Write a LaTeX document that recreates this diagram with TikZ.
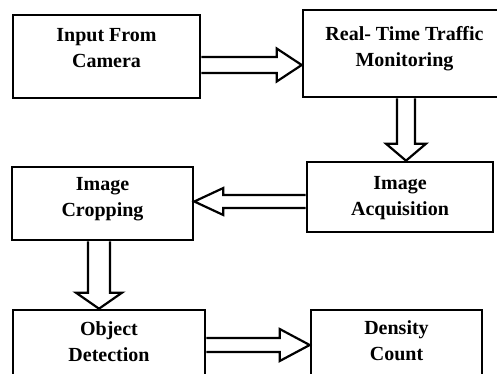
\documentclass[tikz,border=0pt]{standalone}
\usepackage{fontspec}
\setmainfont{Liberation Serif}
\usetikzlibrary{calc}

\tikzset{
	box/.style={rectangle, draw=black, line width=2.6pt},
	boxtext/.style={anchor=north, inner sep=0pt, align=center, font=\bfseries\fontsize{20}{26}\selectfont},
	hollow/.style={draw=black, line width=2.2pt, line join=miter}
}

% from, to, shaft half width, head half width, head length
\newcommand{\HollowArrow}[5]{
	\coordinate (hb) at ($(#2)!#5pt!(#1)$);
	\draw[hollow] ($(#1)!#3pt!90:(#2)$) -- ($(hb)!#3pt!90:(#2)$) -- ($(hb)!#4pt!90:(#2)$) -- (#2) -- ($(hb)!#4pt!-90:(#2)$) -- ($(hb)!#3pt!-90:(#2)$) -- ($(#1)!#3pt!-90:(#2)$);
}

\begin{document}
\begin{tikzpicture}[x=1pt, y=-1pt]

\useasboundingbox (0,0) rectangle (497,373);

\node (cam) at (106.5, 56.5) [box, minimum width=187pt, minimum height=83pt] {};
\node (mon) at (404.5, 53.5) [box, minimum width=203pt, minimum height=87pt] {};
\node (acq) at (400, 197) [box, minimum width=186pt, minimum height=70pt] {};
\node (crop) at (102.5, 203.5) [box, minimum width=181pt, minimum height=73pt] {};
\node (det) at (109, 350) [box, minimum width=192pt, minimum height=80pt] {};
\node (den) at (396.5, 350) [box, minimum width=171pt, minimum height=80pt] {};

\node (camtxt) at ($(cam.north)+(0,14)$) [boxtext] {Input From\\Camera};
\node (montxt) at ($(mon.north)+(0,18)$) [boxtext] {Real- Time Traffic\\Monitoring};
\node (acqtxt) at ($(acq.north)+(0,15)$) [boxtext] {Image\\Acquisition};
\node (croptxt) at ($(crop.north)+(0,11)$) [boxtext] {Image\\Cropping};
\node (dettxt) at ($(det.north)+(0,13)$) [boxtext] {Object\\Detection};
\node (dentxt) at ($(den.north)+(0,12)$) [boxtext] {Density\\Count};

%\draw (cam) -- (mon) etc.
\coordinate (a1s) at ($(cam.east)+(0,8.5)$);
\coordinate (a1e) at (a1s -| mon.west);
\HollowArrow{a1s}{a1e}{8}{16.5}{25}

\coordinate (a2s) at ($(mon.south)+(1.5,0)$);
\coordinate (a2e) at (a2s |- acq.north);
\HollowArrow{a2s}{a2e}{9}{20}{17}

\coordinate (a3s) at ($(acq.west)+(0,4.5)$);
\coordinate (a3e) at (a3s -| crop.east);
\HollowArrow{a3s}{a3e}{6.5}{13.5}{29}

\coordinate (a4s) at ($(crop.south)+(-3.5,0)$);
\coordinate (a4e) at (a4s |- det.north);
\HollowArrow{a4s}{a4e}{11}{23}{16}

\coordinate (a5s) at ($(det.east)+(0,-5)$);
\coordinate (a5e) at (a5s -| den.west);
\HollowArrow{a5s}{a5e}{7}{16}{30}

\end{tikzpicture}
\end{document}
